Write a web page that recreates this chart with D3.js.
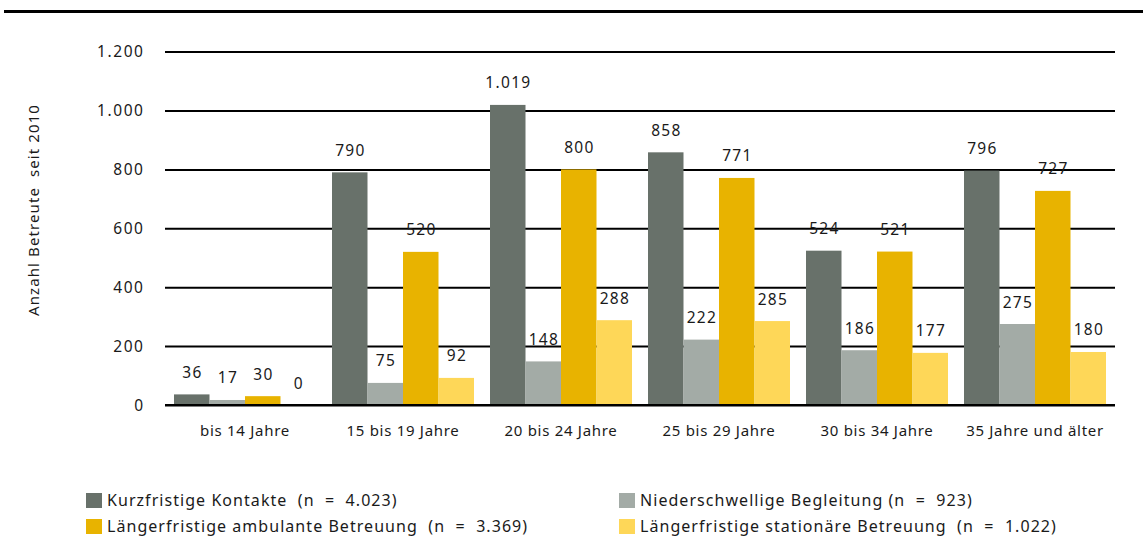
<!DOCTYPE html>
<html>
<head>
<meta charset="utf-8">
<script src="https://cdn.jsdelivr.net/npm/d3@7/dist/d3.min.js"></script>
<style>
  html, body { margin: 0; padding: 0; background: #fff; }
  svg text { font-family: "Noto Sans", "Open Sans", sans-serif; fill: #1a1a1a; white-space: pre; }
</style>
</head>
<body>
<svg id="chart" width="1143" height="558"></svg>
<script>
// Age groups and the number of clients per type of care
const categories = ["bis 14 Jahre", "15 bis 19 Jahre", "20 bis 24 Jahre", "25 bis 29 Jahre", "30 bis 34 Jahre", "35 Jahre und älter"];
const seriesNames = [
  "Kurzfristige Kontakte  (n  =  4.023)",
  "Niederschwellige Begleitung (n  =  923)",
  "Längerfristige ambulante Betreuung  (n  =  3.369)",
  "Längerfristige stationäre Betreuung  (n  =  1.022)"
];
const kurzfristig   = [36, 790, 1019, 858, 524, 796];
const niederschw    = [17, 75, 148, 222, 186, 275];
const ambulant      = [30, 520, 800, 771, 521, 727];
const stationaer    = [0, 92, 288, 285, 177, 180];
const yTicks = [0, 200, 400, 600, 800, 1000, 1200];
const yTitle = "Anzahl Betreute  seit 2010";

const seriesValues = [kurzfristig, niederschw, ambulant, stationaer];
const colors = ["#68716a", "#a3aba6", "#e8b300", "#fed758"];

const svg = d3.select("#chart");
const fmt = d3.formatLocale({ decimal: ",", thousands: ".", grouping: [3], currency: ["", "€"] }).format(",d");

const x0 = d3.scaleBand().domain(categories).range([166, 1114]).paddingInner(16 / 158).paddingOuter(8 / 158);
const x1 = d3.scaleBand().domain(d3.range(seriesValues.length)).range([0, x0.bandwidth()]);
const y = d3.scaleLinear().domain([0, 1200]).range([405, 51.6]);

// heavy rule across the top
svg.append("line").attr("x1", 4).attr("x2", 1143).attr("y1", 11.5).attr("y2", 11.5)
  .attr("stroke", "#000").attr("stroke-width", 3);

// horizontal grid lines
const grid = svg.append("g")
  .call(d3.axisLeft(y).tickValues(yTicks).tickSize(-950).tickFormat(""))
  .attr("transform", "translate(165,0)");
grid.select(".domain").remove();
grid.selectAll("line").attr("stroke", "#000").attr("stroke-width", 2);

// y tick labels
const tickLs = 1.6;
svg.append("g").selectAll("text").data(yTicks).join("text")
  .attr("x", 143 + tickLs).attr("y", d => y(d)).attr("dy", "0.36em")
  .attr("text-anchor", "end").style("font-size", "15.5px").style("letter-spacing", tickLs + "px")
  .text(d => fmt(d));

// y axis title
svg.append("text").attr("transform", "translate(39,210) rotate(-90)")
  .attr("text-anchor", "middle").style("font-size", "15px").style("letter-spacing", "1.1px")
  .text(yTitle);

// bars and value labels
const groups = svg.append("g").selectAll("g").data(categories).join("g")
  .attr("transform", d => `translate(${x0(d)},0)`);

groups.selectAll("rect").data((c, i) => seriesValues.map((s, k) => ({ k, v: s[i] }))).join("rect")
  .attr("x", d => x1(d.k)).attr("width", x1.bandwidth())
  .attr("y", d => y(d.v)).attr("height", d => y(0) - y(d.v))
  .attr("fill", d => colors[d.k]);

const valLs = 1.3;
groups.selectAll("text").data((c, i) => seriesValues.map((s, k) => ({ k, v: s[i] }))).join("text")
  .attr("x", d => x1(d.k) + x1.bandwidth() / 2 + valLs / 2).attr("y", d => y(d.v) - 16.5)
  .attr("text-anchor", "middle").style("font-size", "15.5px").style("letter-spacing", valLs + "px")
  .text(d => fmt(d.v));

// baseline on top of bars
svg.append("line").attr("x1", 165).attr("x2", 1115).attr("y1", y(0)).attr("y2", y(0))
  .attr("stroke", "#000").attr("stroke-width", 2);

// category labels
svg.append("g").selectAll("text").data(categories).join("text")
  .attr("x", d => x0(d) + x0.bandwidth() / 2).attr("y", 436)
  .attr("text-anchor", "middle").style("font-size", "15px").style("letter-spacing", "0.7px")
  .text(d => d);

// legend
const legendPos = [[86, 493], [619, 493], [86, 519], [619, 519]];
const leg = svg.append("g").selectAll("g").data(seriesNames).join("g")
  .attr("transform", (d, i) => `translate(${legendPos[i][0]},${legendPos[i][1]})`);
leg.append("rect").attr("width", 16).attr("height", 15).attr("fill", (d, i) => colors[i]);
leg.append("text").attr("x", 21).attr("y", 13).style("font-size", "16px").style("letter-spacing", "1.05px")
  .text(d => d);
</script>
</body>
</html>
